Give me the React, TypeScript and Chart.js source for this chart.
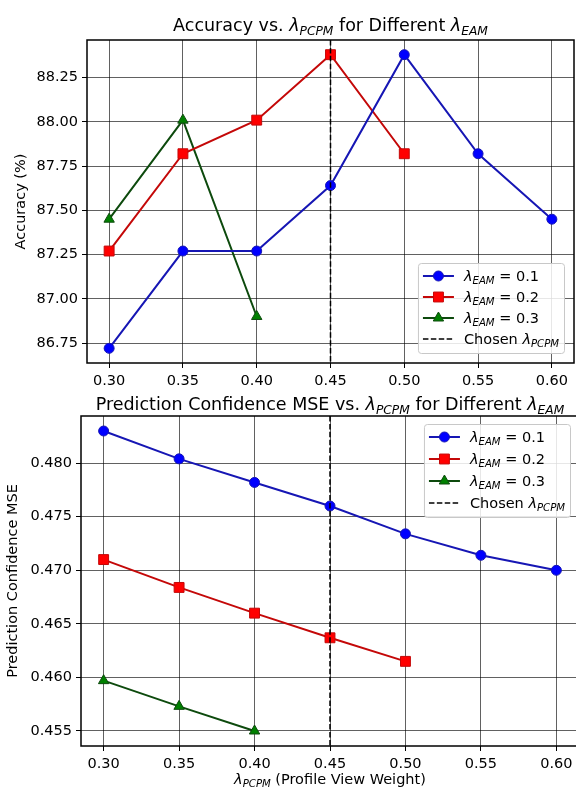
import React, { useEffect, useRef } from "react";
import { Chart, registerables } from "chart.js";
Chart.register(...registerables);

// ---------------- data ----------------
const lambdaPCPM = [0.3, 0.35, 0.4, 0.45, 0.5, 0.55, 0.6];
const lambdaEAM = ["0.1", "0.2", "0.3"];
const accEAM01 = [86.72, 87.27, 87.27, 87.64, 88.38, 87.82, 87.45];
const accEAM02 = [87.27, 87.82, 88.01, 88.38, 87.82];
const accEAM03 = [87.45, 88.01, 86.9];
const mseEAM01 = [0.483, 0.4804, 0.4782, 0.476, 0.4734, 0.4714, 0.47];
const mseEAM02 = [0.471, 0.4684, 0.466, 0.4637, 0.4615];
const mseEAM03 = [0.4597, 0.4573, 0.455];
const chosenLambdaPCPM = 0.45;
const xTickValues = [0.3, 0.35, 0.4, 0.45, 0.5, 0.55, 0.6];
const accTickValues = [86.75, 87.0, 87.25, 87.5, 87.75, 88.0, 88.25];
const mseTickValues = [0.455, 0.46, 0.465, 0.47, 0.475, 0.48];

// ---------------- styles ----------------
const FAMILY = "'DejaVu Sans', 'Liberation Sans', sans-serif";
const FS = 14.5;
const TITLE_FS = 17.5;
const seriesStyle = [
  { line: "#1616b4", fill: "#0000ff", edge: "#1616b4", shape: "circle", r: 5 },
  { line: "#c40808", fill: "#ff0000", edge: "#c40808", shape: "rect", r: 7 },
  { line: "#0d4a0d", fill: "#008000", edge: "#0d4a0d", shape: "triangle", r: 6 },
];

type Seg = { t: string; s: "n" | "i" | "sub" };

function fontFor(s: string, size: number) {
  if (s === "n") return `${size}px ${FAMILY}`;
  if (s === "i") return `italic ${size}px ${FAMILY}`;
  return `italic ${size * 0.7}px ${FAMILY}`;
}
function measureRich(ctx: CanvasRenderingContext2D, segs: Seg[], size: number) {
  let w = 0;
  for (const g of segs) {
    ctx.font = fontFor(g.s, size);
    w += ctx.measureText(g.t).width;
  }
  return w;
}
function drawRich(ctx: CanvasRenderingContext2D, segs: Seg[], x: number, y: number, size: number, align: "left" | "center") {
  const w = measureRich(ctx, segs, size);
  let cx = align === "center" ? x - w / 2 : x;
  ctx.save();
  ctx.textAlign = "left";
  ctx.textBaseline = "alphabetic";
  ctx.fillStyle = "#000";
  for (const g of segs) {
    ctx.font = fontFor(g.s, size);
    const dy = g.s === "sub" ? size * 0.24 : 0;
    ctx.fillText(g.t, cx, y + dy);
    cx += ctx.measureText(g.t).width;
  }
  ctx.restore();
}
function drawMarker(ctx: CanvasRenderingContext2D, shape: string, x: number, y: number, r: number, fill: string, edge: string) {
  ctx.save();
  ctx.fillStyle = fill;
  ctx.strokeStyle = edge;
  ctx.lineWidth = 1;
  ctx.beginPath();
  if (shape === "circle") {
    ctx.arc(x, y, r, 0, Math.PI * 2);
  } else if (shape === "rect") {
    const s = r * Math.SQRT1_2;
    ctx.rect(x - s, y - s, 2 * s, 2 * s);
  } else {
    for (let k = 0; k < 3; k++) {
      const a = (k * 2 * Math.PI) / 3;
      const px = x + Math.sin(a) * r;
      const py = y - Math.cos(a) * r;
      if (k === 0) ctx.moveTo(px, py);
      else ctx.lineTo(px, py);
    }
    ctx.closePath();
  }
  ctx.fill();
  ctx.stroke();
  ctx.restore();
}

const lambdaP: Seg[] = [
  { t: "λ", s: "i" },
  { t: "PCPM", s: "sub" },
];
const lambdaE: Seg[] = [
  { t: "λ", s: "i" },
  { t: "EAM", s: "sub" },
];

const overlayPlugin = {
  id: "overlay",
  afterDatasetsDraw(chart: any, _args: any, opts: any) {
    const { ctx, chartArea: a, scales } = chart;
    // chosen line
    const px = scales.x.getPixelForValue(opts.chosen);
    ctx.save();
    ctx.strokeStyle = "#000";
    ctx.lineWidth = 1.5;
    ctx.setLineDash([5.5, 2.4]);
    ctx.beginPath();
    ctx.moveTo(px, a.top);
    ctx.lineTo(px, a.bottom);
    ctx.stroke();
    ctx.setLineDash([]);
    // frame
    ctx.lineWidth = 1.5;
    ctx.strokeStyle = "#000";
    ctx.strokeRect(a.left, a.top, a.right - a.left, a.bottom - a.top);
    ctx.restore();

    // title
    drawRich(ctx, opts.title, (a.left + a.right) / 2, opts.titleY, TITLE_FS, "center");
    if (opts.xTitle) drawRich(ctx, opts.xTitle, (a.left + a.right) / 2, opts.xTitleY, FS, "center");

    // legend
    const items = chart.data.datasets.map((d: any, i: number) => ({
      segs: [...lambdaE, { t: " = " + lambdaEAM[i], s: "n" }] as Seg[],
      st: seriesStyle[i],
    }));
    const chosenSegs: Seg[] = [{ t: "Chosen ", s: "n" }, ...lambdaP];
    let maxW = measureRich(ctx, chosenSegs, FS);
    for (const it of items) maxW = Math.max(maxW, measureRich(ctx, it.segs, FS));
    const rowH = opts.rowH;
    const w = 46 + maxW + 5;
    const h = 13 + 3 * rowH + 14;
    const x0 = a.right - opts.padR - w;
    const y0 = opts.anchor === "lr" ? a.bottom - opts.padV - h : a.top + opts.padV;
    ctx.save();
    ctx.fillStyle = "rgba(255,255,255,0.85)";
    ctx.strokeStyle = "#c8c8c8";
    ctx.lineWidth = 1;
    ctx.beginPath();
    (ctx as any).roundRect(x0 + 0.5, y0 + 0.5, w, h, 3);
    ctx.fill();
    ctx.stroke();
    ctx.restore();
    items.forEach((it: any, i: number) => {
      const ry = y0 + 13 + i * rowH;
      ctx.save();
      ctx.strokeStyle = it.st.line;
      ctx.lineWidth = 2;
      ctx.beginPath();
      ctx.moveTo(x0 + 5, ry);
      ctx.lineTo(x0 + 36, ry);
      ctx.stroke();
      ctx.restore();
      drawMarker(ctx, it.st.shape, x0 + 20.5, ry, it.st.r, it.st.fill, it.st.edge);
      drawRich(ctx, it.segs, x0 + 46, ry + 5, FS, "left");
    });
    const ry = y0 + 13 + 3 * rowH;
    ctx.save();
    ctx.strokeStyle = "#000";
    ctx.lineWidth = 1.5;
    ctx.setLineDash([5.5, 2.4]);
    ctx.beginPath();
    ctx.moveTo(x0 + 5, ry);
    ctx.lineTo(x0 + 36, ry);
    ctx.stroke();
    ctx.restore();
    drawRich(ctx, chosenSegs, x0 + 46, ry + 5, FS, "left");
  },
};

function makeDatasets(series: number[][]) {
  return series.map((vals, i) => {
    const st = seriesStyle[i];
    return {
      label: "λEAM = " + lambdaEAM[i],
      data: vals.map((v, j) => ({ x: lambdaPCPM[j], y: v })),
      borderColor: st.line,
      backgroundColor: st.fill,
      borderWidth: 2,
      pointStyle: st.shape,
      pointRadius: st.r,
      pointHoverRadius: st.r,
      pointBackgroundColor: st.fill,
      pointBorderColor: st.edge,
      pointBorderWidth: 1,
      tension: 0,
      fill: false,
    };
  });
}

function rangeWithMargin(series: number[][]) {
  const all = series.flat();
  const mn = Math.min(...all);
  const mx = Math.max(...all);
  const pad = (mx - mn) * 0.05;
  return [mn - pad, mx + pad];
}

function makeConfig(p: {
  series: number[][];
  yTicks: number[];
  yDigits: number;
  yTitle: string;
  yTitlePad: number;
  yWidth: number;
  xHeight: number;
  padTop: number;
  padRight: number;
  overlay: any;
}) {
  const [xmin, xmax] = rangeWithMargin([lambdaPCPM]);
  const [ymin, ymax] = rangeWithMargin(p.series);
  const tickFont = { family: FAMILY, size: FS };
  const grid = {
    color: "rgba(0,0,0,0.62)",
    lineWidth: 1,
    tickColor: "#000",
    tickLength: 5,
    tickWidth: 1,
    drawTicks: true,
  };
  const noPad = (s: any) => {
    s.paddingLeft = 0;
    s.paddingRight = 0;
    s.paddingTop = 0;
    s.paddingBottom = 0;
  };
  return {
    type: "line",
    data: { datasets: makeDatasets(p.series) },
    plugins: [overlayPlugin],
    options: {
      animation: false,
      responsive: false,
      events: [],
      layout: { autoPadding: false, padding: { left: 0, right: p.padRight, top: p.padTop, bottom: 0 } },
      plugins: {
        legend: { display: false },
        title: { display: false },
        tooltip: { enabled: false },
        overlay: p.overlay,
      },
      scales: {
        x: {
          type: "linear",
          min: xmin,
          max: xmax,
          afterBuildTicks: (s: any) => {
            s.ticks = xTickValues.map((v) => ({ value: v }));
          },
          afterFit: (s: any) => {
            s.height = p.xHeight;
            noPad(s);
          },
          ticks: {
            callback: (v: any) => Number(v).toFixed(2),
            font: tickFont,
            color: "#000",
            padding: 5,
            maxRotation: 0,
            autoSkip: false,
          },
          grid,
          border: { display: false },
        },
        y: {
          type: "linear",
          min: ymin,
          max: ymax,
          afterBuildTicks: (s: any) => {
            s.ticks = p.yTicks.map((v) => ({ value: v }));
          },
          afterFit: (s: any) => {
            s.width = p.yWidth;
            noPad(s);
          },
          ticks: {
            callback: (v: any) => Number(v).toFixed(p.yDigits),
            font: tickFont,
            color: "#000",
            padding: 4,
            autoSkip: false,
          },
          title: {
            display: true,
            text: p.yTitle,
            font: { family: FAMILY, size: FS },
            color: "#000",
            padding: { top: p.yTitlePad, bottom: 0 },
          },
          grid,
          border: { display: false },
        },
      },
    },
  };
}

function ChartCanvas(props: { config: any; width: number; height: number; top: number }) {
  const ref = useRef<HTMLCanvasElement | null>(null);
  useEffect(() => {
    if (!ref.current) return;
    const chart = new Chart(ref.current, props.config);
    return () => chart.destroy();
  }, []);
  return (
    <canvas
      ref={ref}
      width={props.width}
      height={props.height}
      style={{ position: "absolute", left: 0, top: props.top, width: props.width, height: props.height }}
    />
  );
}

export default function App() {
  Chart.defaults.font.family = FAMILY;
  const topConfig = makeConfig({
    series: [accEAM01, accEAM02, accEAM03],
    yTicks: accTickValues,
    yDigits: 2,
    yTitle: "Accuracy (%)",
    yTitlePad: 13,
    yWidth: 87,
    xHeight: 27,
    padTop: 40,
    padRight: 2,
    overlay: {
      chosen: chosenLambdaPCPM,
      title: [{ t: "Accuracy vs. ", s: "n" }, ...lambdaP, { t: " for Different ", s: "n" }, ...lambdaE],
      titleY: 31,
      anchor: "lr",
      padR: 10,
      padV: 10,
      rowH: 21,
    },
  });
  const bottomConfig = makeConfig({
    series: [mseEAM01, mseEAM02, mseEAM03],
    yTicks: mseTickValues,
    yDigits: 3,
    yTitle: "Prediction Confidence MSE",
    yTitlePad: 5,
    yWidth: 81,
    xHeight: 45,
    padTop: 26,
    padRight: 1,
    overlay: {
      chosen: chosenLambdaPCPM,
      title: [{ t: "Prediction Confidence MSE vs. ", s: "n" }, ...lambdaP, { t: " for Different ", s: "n" }, ...lambdaE],
      titleY: 20,
      xTitle: [...lambdaP, { t: " (Profile View Weight)", s: "n" }],
      xTitleY: 394,
      anchor: "ur",
      padR: 9,
      padV: 8,
      rowH: 22,
    },
  });
  return (
    <div
      style={{
        position: "fixed",
        left: 0,
        top: 0,
        width: 576,
        height: 791,
        overflow: "hidden",
        background: "#fff",
      }}
    >
      <ChartCanvas config={topConfig} width={576} height={390} top={0} />
      <ChartCanvas config={bottomConfig} width={580} height={401} top={390} />
    </div>
  );
}
